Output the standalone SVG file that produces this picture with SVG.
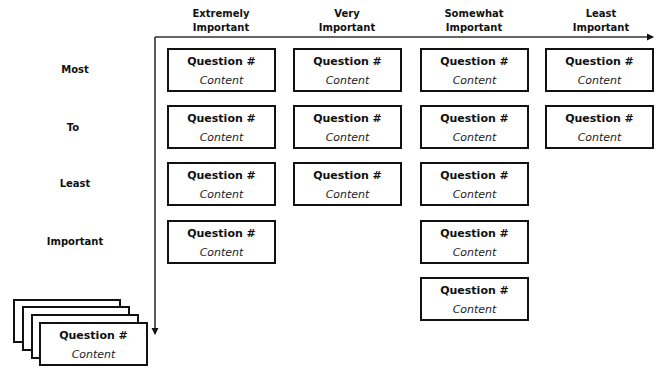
<svg xmlns="http://www.w3.org/2000/svg" width="661" height="370" viewBox="0 0 661 370">
<style>
.box{fill:#fff;stroke:#111;stroke-width:2}
.q{font-family:"DejaVu Sans","Open Sans",sans-serif;font-weight:bold;font-size:11px;fill:#111;text-anchor:middle}
.c{font-family:"DejaVu Sans","Open Sans",sans-serif;font-style:italic;font-size:11px;fill:#222;text-anchor:middle}
.h{font-family:"DejaVu Sans","Open Sans",sans-serif;font-weight:bold;font-size:10px;fill:#111;text-anchor:middle}
.axis{stroke:#333;stroke-width:1.6;fill:none}
</style>
<defs>
<marker id="ah" markerWidth="8" markerHeight="8" refX="6" refY="4" orient="auto" markerUnits="userSpaceOnUse">
<path d="M0,0.5 L7,4 L0,7.5 Z" fill="#111"/>
</marker>
<g id="card">
<rect class="box" x="0" y="0" width="107" height="42"/>
<text class="q" x="53.5" y="16">Question #</text>
<text class="c" x="53.5" y="35">Content</text>
</g>
</defs>
<rect width="661" height="370" fill="#fff"/>
<g id="connectors">
<path class="axis" d="M155,37 H653" marker-end="url(#ah)"/>
<path class="axis" d="M155,37 V334" marker-end="url(#ah)"/>
</g>
<g id="headers">
<text class="h" x="221" y="17">Extremely</text><text class="h" x="221" y="31">Important</text>
<text class="h" x="347" y="17">Very</text><text class="h" x="347" y="31">Important</text>
<text class="h" x="474" y="17">Somewhat</text><text class="h" x="474" y="31">Important</text>
<text class="h" x="601" y="17">Least</text><text class="h" x="601" y="31">Important</text>
</g>
<g id="rowlabels">
<text class="h" x="75" y="73">Most</text>
<text class="h" x="73" y="131">To</text>
<text class="h" x="75" y="187">Least</text>
<text class="h" x="75" y="245">Important</text>
</g>
<g id="c1r1"><use href="#card" x="168" y="49"/></g>
<g id="c1r2"><use href="#card" x="168" y="106"/></g>
<g id="c1r3"><use href="#card" x="168" y="163"/></g>
<g id="c1r4"><use href="#card" x="168" y="221"/></g>
<g id="c2r1"><use href="#card" x="294" y="49"/></g>
<g id="c2r2"><use href="#card" x="294" y="106"/></g>
<g id="c2r3"><use href="#card" x="294" y="163"/></g>
<g id="c3r1"><use href="#card" x="421" y="49"/></g>
<g id="c3r2"><use href="#card" x="421" y="106"/></g>
<g id="c3r3"><use href="#card" x="421" y="163"/></g>
<g id="c3r4"><use href="#card" x="421" y="221"/></g>
<g id="c3r5"><use href="#card" x="421" y="278"/></g>
<g id="c4r1"><use href="#card" x="546" y="49"/></g>
<g id="c4r2"><use href="#card" x="546" y="106"/></g>
<g id="stack">
<rect class="box" x="14" y="300" width="106" height="42"/>
<rect class="box" x="23" y="307" width="106" height="43"/>
<rect class="box" x="32" y="315" width="106" height="43"/>
<use href="#card" x="40" y="323"/>
</g>
</svg>
